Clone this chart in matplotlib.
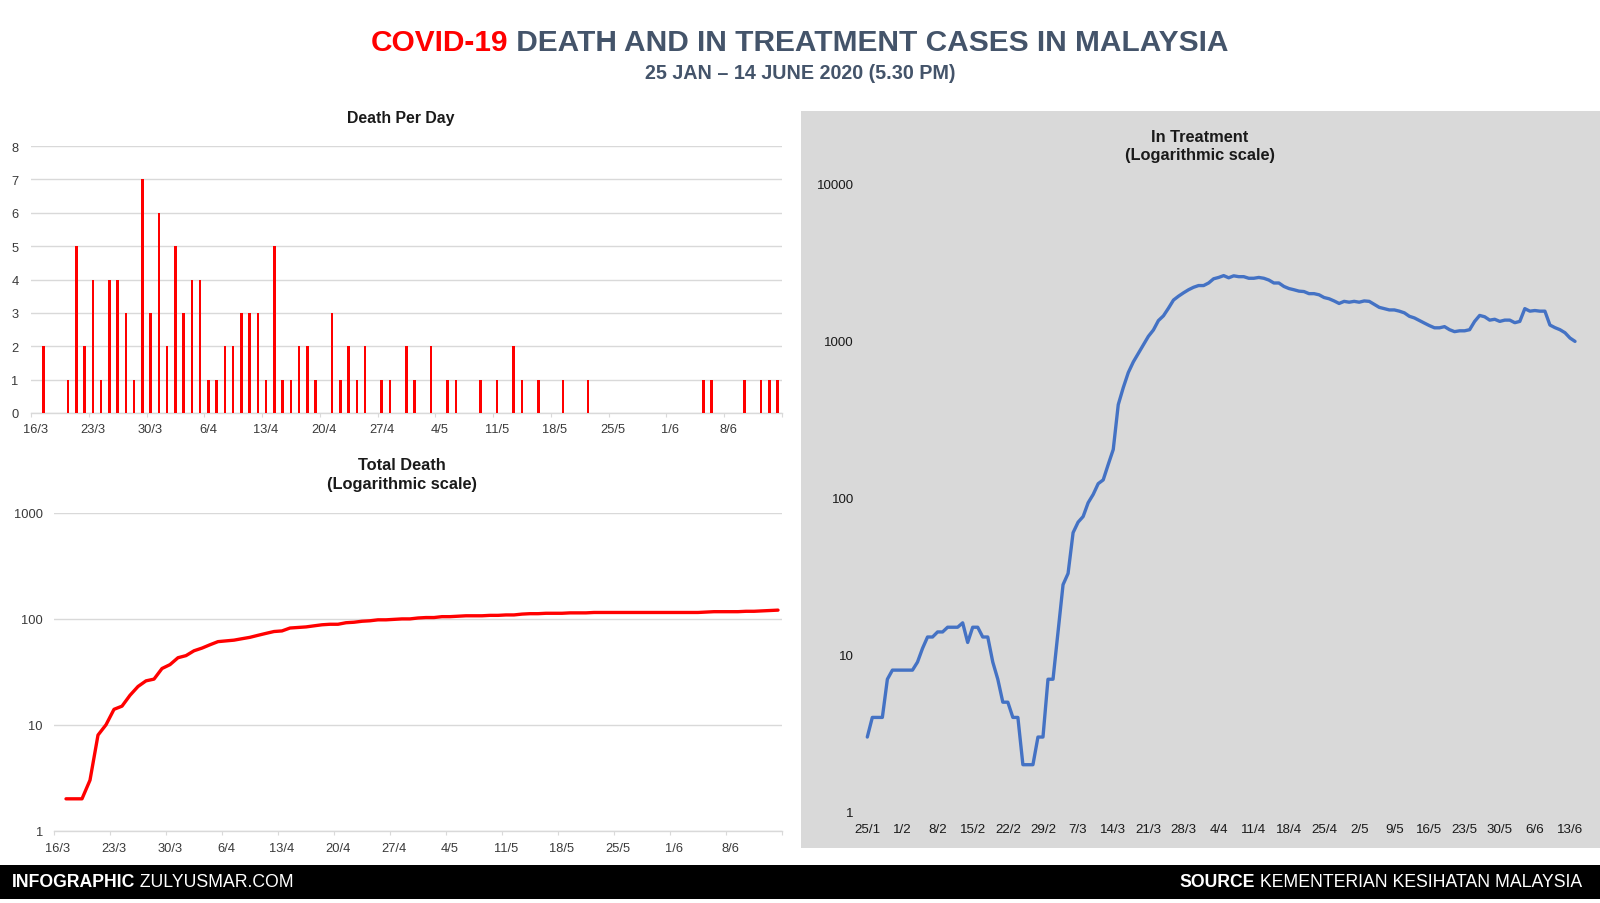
import matplotlib
matplotlib.use('Agg')
import matplotlib.pyplot as plt
from matplotlib.patches import Rectangle
from matplotlib.ticker import NullLocator

plt.rcParams['font.family'] = ['Liberation Sans', 'DejaVu Sans']

# ---------------- data ----------------
# Death per day, 16/3 .. 14/6 (91 days)
death_per_day = [0, 2, 0, 0, 1, 5, 2, 4, 1, 4, 4, 3, 1, 7, 3, 6,          # 16/3-31/3
                 2, 5, 3, 4, 4, 1, 1, 2, 2, 3, 3, 3, 1, 5, 1, 1, 2, 2, 1, 0,  # 1/4-20/4
                 3, 1, 2, 1, 2, 0, 1, 1, 0, 2,                              # 21/4-30/4
                 1, 0, 2, 0, 1, 1, 0, 0, 1, 0, 1, 0, 2, 1, 0, 1, 0, 0, 1, 0,  # 1/5-20/5
                 0, 1, 0, 0, 0, 0, 0, 0, 0, 0, 0,                           # 21/5-31/5
                 0, 0, 0, 0, 1, 1, 0, 0, 0, 1, 0, 1, 1, 1]                  # 1/6-14/6
death_labels = ['16/3', '23/3', '30/3', '6/4', '13/4', '20/4', '27/4', '4/5',
                '11/5', '18/5', '25/5', '1/6', '8/6']

# Total deaths, 17/3 .. 14/6
total_death = [2, 2, 2, 3, 8, 10, 14, 15, 19, 23, 26, 27, 34, 37, 43,
               45, 50, 53, 57, 61, 62, 63, 65, 67, 70, 73, 76, 77, 82, 83,
               84, 86, 88, 89, 89, 92, 93, 95, 96, 98, 98, 99, 100, 100, 102,
               103, 103, 105, 105, 106, 107, 107, 107, 108, 108, 109, 109, 111, 112, 112,
               113, 113, 113, 114, 114, 114, 115, 115, 115, 115, 115, 115, 115, 115, 115,
               115, 115, 115, 115, 115, 116, 117, 117, 117, 117, 118, 118, 119, 120, 121]

# In treatment, 25/1 .. 14/6 (142 days)
in_treatment = [3, 4, 4, 4, 7, 8, 8, 8, 8, 8,
                9, 11, 13, 13, 14, 14, 15, 15, 15, 16,
                12, 15, 15, 13, 13, 9, 7, 5, 5, 4,
                4, 2, 2, 2, 3, 3, 7, 7, 14, 28,
                33, 60, 70, 76, 93, 105, 123, 130, 163, 203,
                392, 503, 627, 733, 830, 941, 1066, 1170, 1343, 1440,
                1610, 1814, 1920, 2017, 2110, 2188, 2244, 2244, 2330, 2478,
                2527, 2596, 2514, 2588, 2556, 2556, 2497, 2497, 2527, 2497,
                2433, 2330, 2330, 2215, 2148, 2110, 2068, 2055, 1993, 1993,
                1960, 1883, 1849, 1791, 1726, 1780, 1758, 1780, 1758, 1791,
                1780, 1704, 1630, 1600, 1570, 1570, 1542, 1504, 1430, 1396,
                1343, 1294, 1247, 1208, 1208, 1229, 1175, 1142, 1156, 1156,
                1175, 1327, 1448, 1420, 1352, 1369, 1327, 1352, 1352, 1302,
                1327, 1600, 1542, 1556, 1542, 1542, 1258, 1211, 1175, 1124,
                1040, 990]
treat_labels = ['25/1', '1/2', '8/2', '15/2', '22/2', '29/2', '7/3', '14/3', '21/3',
                '28/3', '4/4', '11/4', '18/4', '25/4', '2/5', '9/5', '16/5', '23/5',
                '30/5', '6/6', '13/6']

log_death_ticks = [1, 10, 100, 1000]
log_treat_ticks = [1, 10, 100, 1000, 10000]

# ---------------- figure ----------------
W, H = 1600, 904
fig = plt.figure(figsize=(W / 100, H / 100), dpi=100)
fig.patch.set_facecolor('white')

def fx(x):
    return x / W

def fy(y):
    return 1 - y / H

GRID = '#d9d9d9'
LBL = '#3a3a3a'
RED = '#ff0000'
BLUE = '#4472c4'
SLATE = '#44546a'

# background panels
fig.add_artist(Rectangle((fx(801), fy(849)), 1 - fx(801), (849 - 112) / H,
                         transform=fig.transFigure, facecolor='#d9d9d9',
                         edgecolor='none', zorder=0))
fig.add_artist(Rectangle((0, fy(900)), 1, (900 - 866) / H,
                         transform=fig.transFigure, facecolor='black',
                         edgecolor='none', zorder=0))

# ---------- Death per day ----------
n_days = len(death_per_day)
ax1 = fig.add_axes([fx(31), fy(414), 750.75 / W, 267 / H])
ax1.bar(range(n_days), death_per_day, width=0.32, color=RED, linewidth=0, zorder=3)
ax1.set_xlim(-0.5, n_days - 0.5)
ax1.set_ylim(0, 8)
ax1.set_yticks(range(9))
ax1.yaxis.grid(True, color=GRID, linewidth=1.0)
ax1.set_axisbelow(True)
for s in ['top', 'right', 'left']:
    ax1.spines[s].set_visible(False)
ax1.spines['bottom'].set_color(GRID)
ax1.spines['bottom'].set_linewidth(1.0)
lab_pos1 = [7 * i for i in range(len(death_labels))]
ax1.set_xticks([p - 0.5 for p in lab_pos1] + [n_days - 0.5])
ax1.set_xticks(lab_pos1, death_labels, minor=True)
ax1.tick_params(axis='x', which='major', length=3, color=GRID, labelbottom=False)
ax1.tick_params(axis='x', which='minor', length=0, pad=7.5, labelsize=9.3, labelcolor=LBL)
ax1.tick_params(axis='y', length=0, pad=9, labelsize=9.3, labelcolor=LBL)

# ---------- Total death ----------
ax2 = fig.add_axes([fx(54), fy(831.7), 728 / W, 317.7 / H])
ax2.set_yscale('log')
ax2.plot(range(1, 1 + len(total_death)), total_death, color=RED, linewidth=2.4,
         solid_joinstyle='round', solid_capstyle='round', zorder=3)
ax2.set_xlim(-0.5, n_days - 0.5)
ax2.set_ylim(1, 1000)
ax2.set_yticks(log_death_ticks, [str(v) for v in log_death_ticks])
ax2.yaxis.set_minor_locator(NullLocator())
ax2.yaxis.grid(True, which='major', color=GRID, linewidth=1.0)
ax2.set_axisbelow(True)
for s in ['top', 'right', 'left']:
    ax2.spines[s].set_visible(False)
ax2.spines['bottom'].set_color(GRID)
ax2.spines['bottom'].set_linewidth(1.0)
ax2.set_xticks([p - 0.5 for p in lab_pos1] + [n_days - 0.5])
ax2.set_xticks(lab_pos1, death_labels, minor=True)
ax2.tick_params(axis='x', which='major', length=3, color=GRID, labelbottom=False)
ax2.tick_params(axis='x', which='minor', length=0, pad=8, labelsize=9.3, labelcolor=LBL)
ax2.tick_params(axis='y', which='both', length=0, pad=8, labelsize=9.3, labelcolor=LBL)

# ---------- In treatment ----------
ax3 = fig.add_axes([fx(860), fy(813), 722 / W, 628.4 / H])
ax3.set_facecolor('none')
ax3.set_yscale('log')
ax3.plot(range(len(in_treatment)), in_treatment, color=BLUE, linewidth=2.4,
         solid_joinstyle='round', solid_capstyle='round')
ax3.set_xlim(-1.454, 142.39)
ax3.set_ylim(1, 10000)
ax3.set_yticks(log_treat_ticks, [str(v) for v in log_treat_ticks])
ax3.yaxis.set_minor_locator(NullLocator())
ax3.set_xticks([7 * i for i in range(len(treat_labels))], treat_labels)
for s in ax3.spines.values():
    s.set_visible(False)
ax3.tick_params(axis='x', length=0, pad=8, labelsize=9.6, labelcolor='#1a1a1a')
ax3.tick_params(axis='y', which='both', length=0, pad=4.5, labelsize=9.6, labelcolor='#1a1a1a')

# ---------- chart titles ----------
TCOL = '#1a1a1a'
fig.text(fx(401), fy(118), 'Death Per Day', ha='center', va='center',
         fontsize=11.4, fontweight='bold', color=TCOL)
fig.text(fx(402), fy(466), 'Total Death', ha='center', va='center',
         fontsize=11.8, fontweight='bold', color=TCOL)
fig.text(fx(402), fy(485), '(Logarithmic scale)', ha='center', va='center',
         fontsize=11.8, fontweight='bold', color=TCOL)
fig.text(fx(1200), fy(137), 'In Treatment', ha='center', va='center',
         fontsize=11.8, fontweight='bold', color=TCOL)
fig.text(fx(1200), fy(156), '(Logarithmic scale)', ha='center', va='center',
         fontsize=11.8, fontweight='bold', color=TCOL)

# ---------- composed texts ----------
def compose(parts, x, y, ha, size):
    texts = [fig.text(0, fy(y), s, ha='left', va='center', fontsize=size,
                      color=c, fontweight=w) for s, c, w in parts]
    fig.canvas.draw()
    r = fig.canvas.get_renderer()
    widths = [t.get_window_extent(r).width for t in texts]
    total = sum(widths)
    if ha == 'center':
        cur = x - total / 2
    elif ha == 'right':
        cur = x - total
    else:
        cur = x
    for t, w in zip(texts, widths):
        t.set_x(fx(cur))
        cur += w

compose([('COVID-19', RED, 'bold'),
         (' DEATH AND IN TREATMENT CASES IN MALAYSIA', SLATE, 'bold')],
        800, 43, 'center', 21.5)
fig.text(0.5, fy(73.5), '25 JAN \u2013 14 JUNE 2020 (5.30 PM)', ha='center', va='center',
         fontsize=14.2, fontweight='bold', color=SLATE)

compose([('INFOGRAPHIC', 'white', 'bold'), (' ZULYUSMAR.COM', 'white', 'normal')],
        12, 883, 'left', 12.7)
compose([('SOURCE', 'white', 'bold'), (' KEMENTERIAN KESIHATAN MALAYSIA', 'white', 'normal')],
        1582, 883, 'right', 12.7)

fig.savefig('out.png', dpi=100, facecolor='white')
